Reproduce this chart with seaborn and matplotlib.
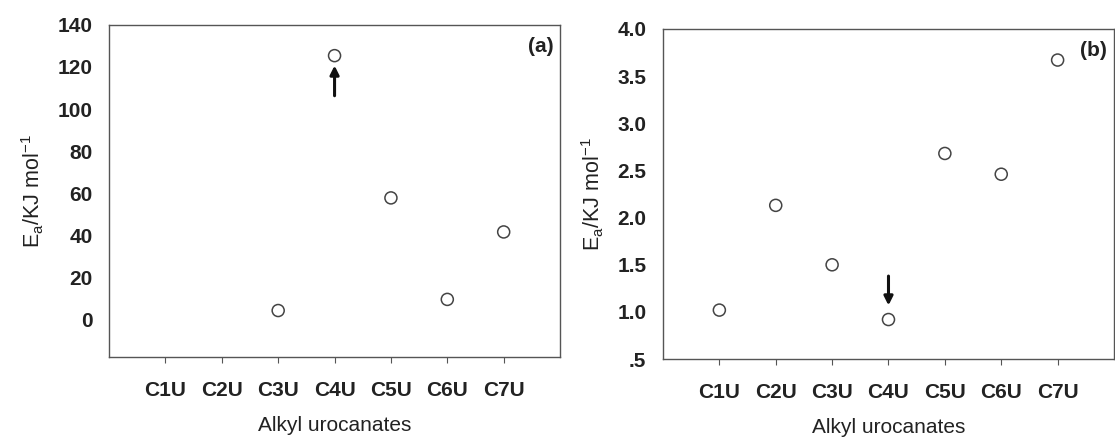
import numpy as np
import pandas as pd
import seaborn as sns
from matplotlib import pyplot as plt

# alkyl urocanates on the x axis
categories = ["C1U", "C2U", "C3U", "C4U", "C5U", "C6U", "C7U"]
# activation energies, panel (a) and panel (b)
ea_a = [np.nan, np.nan, 4.1, 125.4, 57.7, 9.4, 41.5]
ea_b = [1.02, 2.13, 1.50, 0.92, 2.68, 2.46, 3.67]
yticks_a = [0, 20, 40, 60, 80, 100, 120, 140]
yticks_b = [0.5, 1.0, 1.5, 2.0, 2.5, 3.0, 3.5, 4.0]
yticklabels_b = [".5", "1.0", "1.5", "2.0", "2.5", "3.0", "3.5", "4.0"]

sns.set_theme(style="white")
plt.rcParams["font.family"] = ["Liberation Sans", "DejaVu Sans"]
plt.rcParams["mathtext.fontset"] = "custom"
plt.rcParams["mathtext.rm"] = "Liberation Sans"
plt.rcParams["mathtext.it"] = "Liberation Sans"

fig = plt.figure(figsize=(11.15, 4.38), dpi=100)
ax_a = fig.add_axes([0.0978, 0.185, 0.4045, 0.758])
ax_b = fig.add_axes([0.5946, 0.180, 0.4045, 0.754])

# numeric position per category keeps the order even where a value is missing
df = pd.DataFrame({"cat": categories, "pos": np.arange(len(categories)), "a": ea_a, "b": ea_b})

panels = [
    (ax_a, "a", (-18, 140), yticks_a, [str(t) for t in yticks_a], "(a)"),
    (ax_b, "b", (0.5, 4.0), yticks_b, yticklabels_b, "(b)"),
]

for ax, col, ylim, yt, ytl, tag in panels:
    sns.scatterplot(
        data=df.dropna(subset=[col]),
        x="pos",
        y=col,
        ax=ax,
        s=75,
        facecolor="none",
        edgecolor="#444444",
        linewidth=1.1,
        zorder=3,
    )
    ax.set_xticks(df["pos"])
    ax.set_xticklabels(categories, fontsize=15, fontweight="bold", color="#222222")
    ax.set_xlim(-1, len(categories))
    ax.set_ylim(*ylim)
    ax.set_yticks(yt)
    ax.set_yticklabels(ytl, fontsize=15, fontweight="bold", color="#222222")
    ax.tick_params(axis="x", length=4, width=0.8, color="#555555", pad=13, direction="out", bottom=True)
    ax.tick_params(axis="y", length=0, pad=12)
    ax.set_xlabel("Alkyl urocanates", fontsize=15, color="#222222", labelpad=12)
    ax.set_ylabel(r"E$_\mathregular{a}$/KJ mol$^\mathregular{-1}$", fontsize=15.5, color="#222222", labelpad=8)
    for sp in ax.spines.values():
        sp.set_visible(True)
        sp.set_color("#555555")
        sp.set_linewidth(1.0)
    ax.text(0.985, 0.935, tag, transform=ax.transAxes, ha="right", va="center",
            fontsize=15, fontweight="bold", color="#222222")

# arrows marking C4U
c4 = categories.index("C4U")
ax_a.annotate("", xy=(c4, 122), xytext=(c4, 105),
              arrowprops=dict(arrowstyle="-|>", color="#111111", lw=2.2, mutation_scale=13))
ax_b.annotate("", xy=(c4, 1.04), xytext=(c4, 1.41),
              arrowprops=dict(arrowstyle="-|>", color="#111111", lw=2.2, mutation_scale=13))

fig.savefig("out.png", dpi=100)
